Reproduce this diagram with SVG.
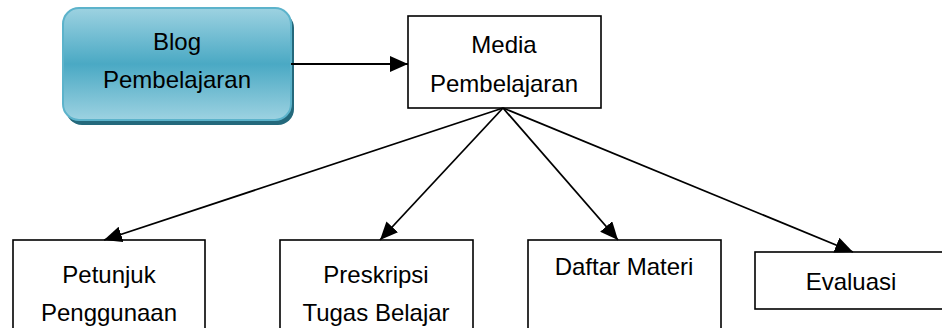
<svg xmlns="http://www.w3.org/2000/svg" width="942" height="328" viewBox="0 0 942 328">
<defs>
<linearGradient id="blogGrad" x1="0" y1="0" x2="0" y2="1">
<stop offset="0" stop-color="#9dd2e1"/>
<stop offset="0.5" stop-color="#4aa9c4"/>
<stop offset="1" stop-color="#9dd2e1"/>
</linearGradient>
<marker id="arrow" markerUnits="userSpaceOnUse" markerWidth="19" markerHeight="16" refX="18" refY="8" orient="auto">
<path d="M0,0 L18,8 L0,16 Z" fill="#000"/>
</marker>
</defs>
<style>
.box{fill:#fff;stroke:#000;stroke-width:1.6}
.lbl{font-family:"Liberation Sans",Arial,sans-serif;font-size:24px;fill:#000;text-anchor:middle}
.conn{stroke:#000;stroke-width:1.8;fill:none;marker-end:url(#arrow)}
</style>
<g id="blog">
<rect x="66" y="12" width="228" height="113" rx="16" fill="#24697c"/>
<rect x="63" y="8" width="228" height="112" rx="16" fill="url(#blogGrad)" stroke="#5cb3cb" stroke-width="2"/>
<text class="lbl" x="177" y="50">Blog</text>
<text class="lbl" x="177" y="88">Pembelajaran</text>
</g>
<g id="media">
<rect class="box" x="408" y="16" width="193" height="92"/>
<text class="lbl" x="504" y="53">Media</text>
<text class="lbl" x="504" y="92">Pembelajaran</text>
</g>
<g id="petunjuk">
<rect class="box" x="13" y="240" width="192" height="100"/>
<text class="lbl" x="109" y="283">Petunjuk</text>
<text class="lbl" x="109" y="321">Penggunaan</text>
</g>
<g id="preskripsi">
<rect class="box" x="280" y="240" width="193" height="100"/>
<text class="lbl" x="376" y="283">Preskripsi</text>
<text class="lbl" x="376" y="321">Tugas Belajar</text>
</g>
<g id="daftar">
<rect class="box" x="528" y="240" width="193" height="100"/>
<text class="lbl" x="624" y="275">Daftar Materi</text>
</g>
<g id="evaluasi">
<rect class="box" x="755" y="252" width="200" height="57"/>
<text class="lbl" x="851" y="290">Evaluasi</text>
</g>
<g id="connectors">
<line class="conn" x1="291" y1="64" x2="408" y2="64"/>
<line class="conn" x1="503" y1="108" x2="104" y2="240"/>
<line class="conn" x1="503" y1="108" x2="380" y2="240"/>
<line class="conn" x1="503" y1="108" x2="618" y2="240"/>
<line class="conn" x1="503" y1="108" x2="853" y2="252"/>
</g>
</svg>
